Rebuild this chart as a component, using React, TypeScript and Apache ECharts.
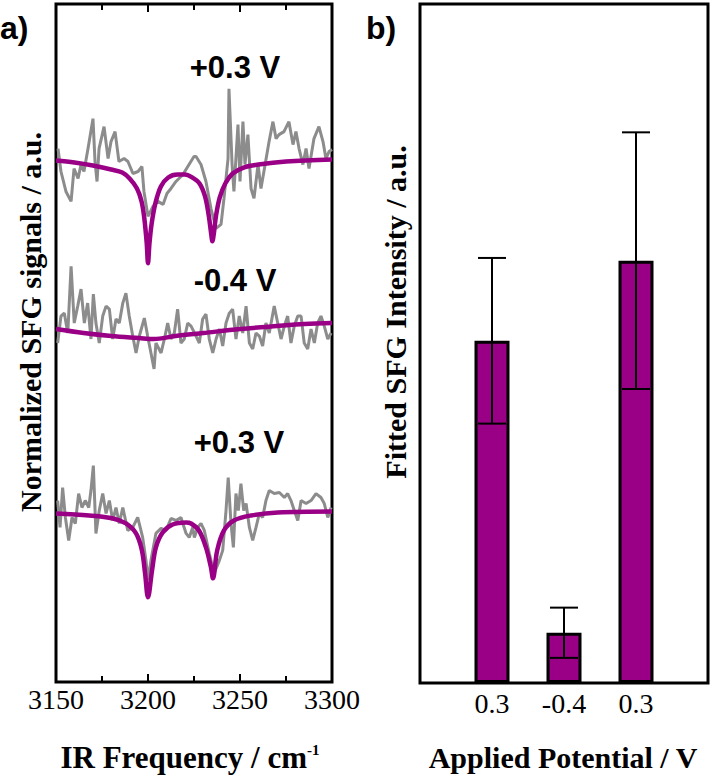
import React, { useEffect, useRef } from "react";
import * as echarts from "echarts";

// ---------- Panel a) : SFG spectra (IR frequency in cm-1, normalized signal in a.u.) ----------
const topRaw: [number, number][] = [
  [3151.1, 53.5], [3152.7, 51.2], [3155.4, 49.2], [3158.2, 48.2], [3159.8, 51.5], [3162.0, 50.5],
  [3163.6, 51.9], [3165.2, 51.2], [3167.4, 53.5], [3170.1, 56.5], [3171.2, 52.2], [3172.3, 50.2],
  [3173.4, 53.5], [3176.1, 55.7], [3178.3, 52.5], [3179.9, 54.2], [3182.1, 55.2], [3184.2, 52.2],
  [3187.0, 52.5], [3189.1, 52.2], [3191.8, 51.0], [3194.6, 51.2], [3196.7, 51.7], [3197.8, 49.2],
  [3200.0, 46.7], [3202.7, 47.7], [3205.4, 48.2], [3208.2, 47.9], [3210.3, 49.0], [3212.5, 49.5],
  [3215.2, 50.2], [3219.0, 50.9], [3222.3, 51.9], [3225.0, 52.7], [3226.1, 52.7], [3228.8, 51.9],
  [3231.5, 50.2], [3234.2, 47.5], [3237.0, 45.5], [3239.7, 45.9], [3241.3, 48.5], [3243.5, 52.5],
  [3244.0, 59.5], [3245.7, 51.9], [3246.7, 49.2], [3248.9, 55.9], [3250.0, 50.2], [3251.6, 56.2],
  [3252.7, 51.9], [3254.3, 54.9], [3256.0, 49.5], [3257.6, 48.5], [3259.8, 51.9], [3261.4, 49.5],
  [3263.0, 51.2], [3265.8, 54.2], [3267.9, 56.2], [3269.6, 54.5], [3271.2, 54.9], [3273.9, 55.2],
  [3276.6, 56.2], [3278.8, 53.9], [3280.4, 55.2], [3282.1, 53.5], [3284.2, 51.9], [3285.9, 53.5],
  [3287.5, 51.5], [3290.2, 54.5], [3292.9, 55.7], [3295.1, 54.2], [3296.7, 52.5], [3298.4, 53.2],
  [3300.0, 53.4],
];
const topFit: [number, number][] = [
  [3150, 52.3], [3160, 52.1], [3170, 51.8], [3180, 51.4], [3186, 51.1], [3190, 50.5], [3194, 49.5],
  [3196.5, 48.2], [3198, 46.5], [3199.3, 44.0], [3200, 42.0], [3200.8, 44.0], [3202, 46.0],
  [3204, 48.0], [3207, 49.7], [3211, 50.6], [3216, 50.9], [3220, 50.9], [3224, 50.6], [3228, 50.0],
  [3231, 48.7], [3233, 46.8], [3234.3, 45.0], [3235, 44.2], [3235.8, 45.0], [3237, 46.8],
  [3239, 48.6], [3242, 50.0], [3246, 51.0], [3252, 51.6], [3260, 51.9], [3275, 52.2], [3300, 52.4],
];
const midRaw: [number, number][] = [
  [3150.9, 34.0], [3152.7, 36.7], [3154.5, 37.0], [3156.4, 35.0], [3158.2, 41.7], [3159.9, 36.0],
  [3161.8, 37.7], [3163.6, 39.4], [3165.4, 36.0], [3167.2, 38.0], [3169.0, 34.4], [3170.3, 38.9],
  [3171.7, 36.0], [3173.5, 34.0], [3175.4, 36.7], [3177.2, 37.7], [3179.0, 37.4], [3180.8, 34.4],
  [3182.6, 36.4], [3184.4, 36.0], [3186.3, 38.0], [3188.0, 39.0], [3189.8, 36.7], [3191.7, 34.7],
  [3193.5, 33.0], [3195.3, 34.7], [3198.0, 36.5], [3199.8, 34.7], [3203.3, 31.4], [3204.3, 34.0],
  [3207.1, 33.0], [3208.9, 34.4], [3210.7, 36.0], [3212.5, 34.4], [3214.3, 35.0], [3216.1, 37.4],
  [3217.9, 34.0], [3219.7, 34.4], [3221.6, 36.0], [3223.4, 35.7], [3226.1, 34.7], [3227.9, 34.0],
  [3229.7, 36.4], [3231.5, 36.9], [3233.3, 34.4], [3235.2, 33.0], [3237.0, 34.4], [3238.8, 35.4],
  [3240.6, 33.7], [3242.4, 36.0], [3244.2, 37.0], [3246.0, 37.4], [3247.8, 34.4], [3249.6, 36.7],
  [3251.5, 35.0], [3253.3, 37.7], [3255.1, 34.0], [3256.9, 33.4], [3258.7, 35.0], [3260.5, 34.7],
  [3262.3, 33.7], [3264.1, 36.0], [3265.9, 35.0], [3268.6, 37.7], [3270.5, 36.0], [3272.3, 34.4],
  [3274.1, 35.7], [3275.9, 36.7], [3277.7, 34.0], [3279.5, 35.7], [3281.4, 36.7], [3283.2, 36.7],
  [3284.9, 34.0], [3286.8, 33.4], [3288.6, 35.4], [3290.4, 34.0], [3292.2, 36.0], [3294.0, 36.7],
  [3295.8, 35.7], [3297.7, 34.4], [3299.5, 35.0],
];
const midFit: [number, number][] = [
  [3150, 35.4], [3165, 35.0], [3180, 34.7], [3195, 34.5], [3203, 34.4], [3215, 34.7], [3230, 35.0],
  [3250, 35.4], [3270, 35.7], [3285, 35.9], [3300, 36.0],
];
const botRaw: [number, number][] = [
  [3150.9, 18.2], [3152.2, 15.5], [3153.6, 19.5], [3155.1, 16.5], [3156.9, 14.2], [3158.7, 16.5],
  [3160.5, 15.9], [3162.3, 18.9], [3164.1, 17.5], [3165.9, 18.2], [3167.8, 17.5], [3169.0, 19.2],
  [3170.3, 21.7], [3171.7, 14.9], [3173.5, 17.2], [3175.4, 18.9], [3177.2, 16.9], [3179.0, 18.2],
  [3180.8, 16.2], [3182.6, 17.5], [3184.4, 15.9], [3186.3, 17.5], [3189.0, 15.2], [3191.7, 15.5],
  [3194.4, 16.5], [3197.1, 14.5], [3198.9, 12.2], [3200.0, 10.2], [3201.6, 12.2], [3204.3, 14.9],
  [3207.1, 15.4], [3209.8, 15.2], [3212.5, 16.4], [3215.2, 16.2], [3217.9, 16.5], [3220.7, 14.9],
  [3222.4, 14.5], [3224.3, 15.5], [3225.2, 14.5], [3227.0, 15.5], [3228.8, 15.9], [3230.6, 15.2],
  [3233.3, 12.9], [3236.0, 10.9], [3238.8, 12.2], [3240.6, 13.2], [3242.4, 17.2], [3243.6, 20.5],
  [3245.1, 15.9], [3246.4, 13.5], [3247.8, 18.9], [3249.1, 17.2], [3250.5, 19.9], [3252.0, 17.2],
  [3253.3, 17.9], [3255.1, 15.5], [3256.9, 14.2], [3258.7, 15.5], [3260.5, 16.9], [3262.3, 16.5],
  [3264.1, 18.2], [3265.9, 19.2], [3268.6, 18.9], [3271.4, 19.0], [3274.1, 18.5], [3275.9, 18.9],
  [3277.7, 18.2], [3279.5, 17.2], [3281.4, 16.2], [3283.2, 18.2], [3285.9, 17.9], [3288.6, 18.2],
  [3291.3, 18.9], [3294.0, 18.5], [3295.8, 17.9], [3297.7, 16.5], [3299.5, 17.5],
];
const botFit: [number, number][] = [
  [3150, 16.9], [3168, 16.7], [3181, 16.4], [3188, 15.9], [3193.5, 14.9], [3196.7, 13.2],
  [3198.4, 10.9], [3200, 8.5], [3202.2, 11.2], [3204.3, 13.5], [3208, 15.0], [3213.4, 15.8],
  [3220.7, 16.0], [3223.4, 15.9], [3227.7, 15.2], [3231.5, 13.5], [3234.2, 11.5], [3235.3, 10.4],
  [3237.6, 13.2], [3241.3, 15.2], [3246.7, 16.2], [3256, 16.7], [3270.5, 17.0], [3300, 17.1],
];
const traceLabels = ["+0.3 V", "-0.4 V", "+0.3 V"];

// ---------- Panel b) : fitted SFG intensity per applied potential ----------
const potentials = ["0.3", "-0.4", "0.3"];
const intensities = [50.4, 7.4, 62.2];
const intensityErr = [12.2, 3.7, 18.9];

const PURPLE = "#990085";
const GRAY = "#8c8c8c";
const SERIF = "Liberation Serif";
const SANS = "Liberation Sans";

export default function App() {
  const ref = useRef<HTMLDivElement>(null);

  useEffect(() => {
    document.body.style.margin = "0";
    if (!ref.current) return;
    const chart = echarts.init(ref.current, undefined, { renderer: "svg" });

    const categories = ["", ...potentials, ""];
    const barData = [null, ...intensities, null];
    const errData = potentials.map((_, i) => [i + 1, intensities[i] - intensityErr[i], intensities[i] + intensityErr[i]]);

    const freqAxisBase = {
      type: "value",
      gridIndex: 0,
      min: 3150,
      max: 3300,
      interval: 50,
      axisLine: { show: false },
      axisTick: { show: true, inside: true, length: 8, lineStyle: { color: "#000", width: 2 } },
      minorTick: { show: true, splitNumber: 2, length: 6, lineStyle: { color: "#000", width: 2 } },
      splitLine: { show: false },
      minorSplitLine: { show: false },
    };

    const rawLine = (data: [number, number][]) => ({
      type: "line",
      xAxisIndex: 0,
      yAxisIndex: 0,
      data,
      showSymbol: false,
      symbol: "none",
      lineStyle: { color: GRAY, width: 3 },
      z: 2,
    });
    const fitLine = (data: [number, number][]) => ({
      type: "line",
      xAxisIndex: 0,
      yAxisIndex: 0,
      data,
      showSymbol: false,
      symbol: "none",
      smooth: 0.35,
      lineStyle: { color: PURPLE, width: 4.5 },
      z: 3,
    });

    const titleStyle = { fontFamily: SERIF, fontWeight: "bold", fontSize: 30, fill: "#000" };

    const option: any = {
      animation: false,
      backgroundColor: "#fff",
      grid: [
        { left: 56, top: 4, width: 276, height: 678, show: true, borderColor: "#000", borderWidth: 3, backgroundColor: "transparent" },
        { left: 420, top: 4, width: 288, height: 679, show: true, borderColor: "#000", borderWidth: 3, backgroundColor: "transparent" },
      ],
      xAxis: [
        {
          ...freqAxisBase,
          position: "bottom",
          axisLabel: { margin: 3, fontSize: 28, fontFamily: SERIF, color: "#000", formatter: (v: number) => String(v) },
        },
        {
          ...freqAxisBase,
          position: "top",
          axisLabel: { show: false },
        },
        {
          type: "category",
          gridIndex: 1,
          data: categories,
          boundaryGap: false,
          axisLine: { show: false },
          axisTick: { show: false },
          axisLabel: { interval: 0, margin: 6, fontSize: 28, fontFamily: SERIF, color: "#000" },
        },
      ],
      yAxis: [
        { type: "value", gridIndex: 0, min: 0, max: 68, show: false, splitLine: { show: false } },
        { type: "value", gridIndex: 1, min: 0, max: 100, show: false, splitLine: { show: false } },
      ],
      series: [
        rawLine(topRaw),
        rawLine(midRaw),
        rawLine(botRaw),
        fitLine(topFit),
        fitLine(midFit),
        fitLine(botFit),
        {
          type: "bar",
          xAxisIndex: 2,
          yAxisIndex: 1,
          data: barData,
          barWidth: 35,
          itemStyle: { color: PURPLE, borderColor: "#000", borderWidth: 3 },
          z: 2,
        },
        {
          type: "custom",
          xAxisIndex: 2,
          yAxisIndex: 1,
          data: errData,
          encode: { x: 0, y: [1, 2] },
          z: 5,
          renderItem: (params: any, api: any) => {
            const x = api.value(0);
            const lo = api.coord([x, api.value(1)]);
            const hi = api.coord([x, api.value(2)]);
            const w = 14;
            const st = { stroke: "#000", lineWidth: 2 };
            return {
              type: "group",
              children: [
                { type: "line", shape: { x1: hi[0], y1: hi[1], x2: lo[0], y2: lo[1] }, style: st },
                { type: "line", shape: { x1: hi[0] - w, y1: hi[1], x2: hi[0] + w, y2: hi[1] }, style: st },
                { type: "line", shape: { x1: lo[0] - w, y1: lo[1], x2: lo[0] + w, y2: lo[1] }, style: st },
              ],
            };
          },
        },
      ],
      graphic: [
        { type: "text", x: 0, y: 28, style: { text: "a)", fontFamily: SANS, fontWeight: "bold", fontSize: 32, fill: "#000", verticalAlign: "middle" } },
        { type: "text", x: 366, y: 28, style: { text: "b)", fontFamily: SANS, fontWeight: "bold", fontSize: 32, fill: "#000", verticalAlign: "middle" } },
        { type: "text", x: 235, y: 67, style: { text: traceLabels[0], fontFamily: SANS, fontWeight: "bold", fontSize: 31, fill: "#000", align: "center", verticalAlign: "middle" } },
        { type: "text", x: 235, y: 280, style: { text: traceLabels[1], fontFamily: SANS, fontWeight: "bold", fontSize: 31, fill: "#000", align: "center", verticalAlign: "middle" } },
        { type: "text", x: 239, y: 442, style: { text: traceLabels[2], fontFamily: SANS, fontWeight: "bold", fontSize: 31, fill: "#000", align: "center", verticalAlign: "middle" } },
        {
          type: "text", x: 30, y: 322, rotation: Math.PI / 2,
          style: { ...titleStyle, text: "Normalized SFG signals / a.u.", align: "center", verticalAlign: "middle" },
        },
        {
          type: "text", x: 395, y: 312, rotation: Math.PI / 2,
          style: { ...titleStyle, text: "Fitted SFG Intensity / a.u.", align: "center", verticalAlign: "middle" },
        },
        {
          type: "text", x: 190, y: 757,
          style: {
            text: "{m|IR Frequency / cm}{s|-1}",
            align: "center",
            verticalAlign: "middle",
            rich: {
              m: { fontFamily: SERIF, fontWeight: "bold", fontSize: 31, fill: "#000", lineHeight: 30 },
              s: { fontFamily: SERIF, fontWeight: "bold", fontSize: 15, fill: "#000", verticalAlign: "top", lineHeight: 30, padding: [0, 0, 14, 0] },
            },
          },
        },
        { type: "text", x: 563, y: 757, style: { ...titleStyle, text: "Applied Potential / V", align: "center", verticalAlign: "middle" } },
      ],
    };

    chart.setOption(option);
    return () => chart.dispose();
  }, []);

  return <div ref={ref} style={{ width: 711, height: 775 }} />;
}
